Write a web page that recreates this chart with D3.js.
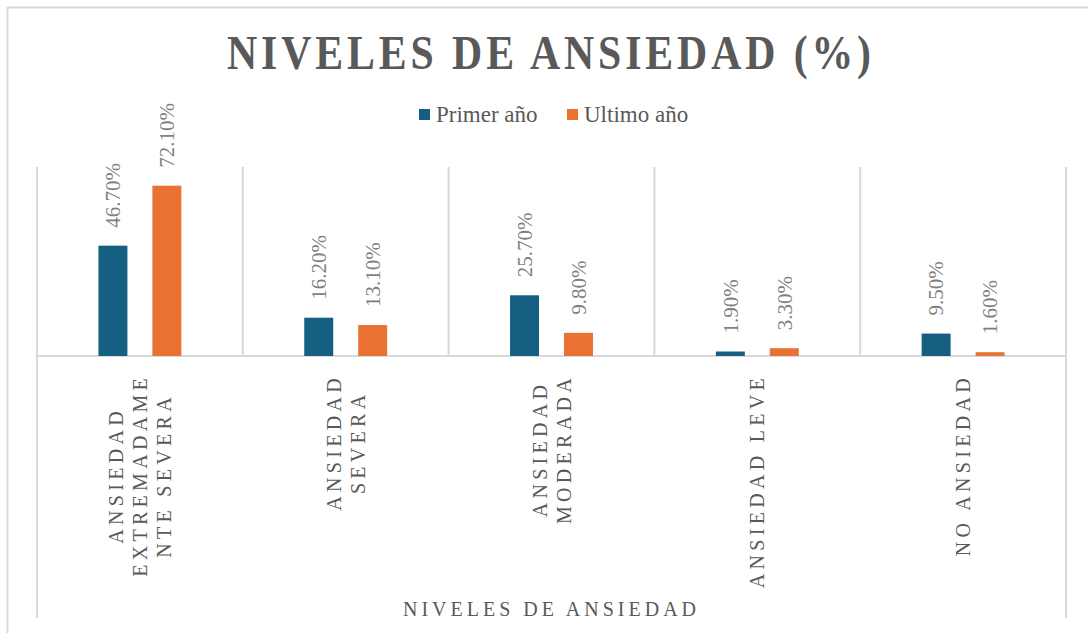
<!DOCTYPE html>
<meta charset="utf-8">
<script src="https://d3js.org/d3.v7.min.js"></script>
<style>
  body { margin: 0; background: #fff; }
</style>
<div id="chart"></div>
<script>

// data
var categories = ["Ansiedad extremadamente severa", "Ansiedad severa", "Ansiedad moderada", "Ansiedad leve", "No ansiedad"];
var categoryLines = [
  ["ANSIEDAD", "EXTREMADAME", "NTE SEVERA"],
  ["ANSIEDAD", "SEVERA"],
  ["ANSIEDAD", "MODERADA"],
  ["ANSIEDAD LEVE"],
  ["NO ANSIEDAD"]
];
var seriesNames = ["Primer año", "Ultimo año"];
var primerAno = [46.7, 16.2, 25.7, 1.9, 9.5];
var ultimoAno = [72.1, 13.1, 9.8, 3.3, 1.6];
var colors = ["#156082", "#E97132"];

var W = 1088, H = 633;
var plot = {left: 37, right: 1066, top: 167, bottom: 356};
var serif = "'Liberation Serif', 'Times New Roman', 'DejaVu Serif', serif";

var svg = d3.select("#chart").append("svg")
  .attr("width", W).attr("height", H)
  .attr("font-family", serif)
  .style("font-family", serif);

// chart frame (only top and left edges visible in the crop)
svg.append("path")
  .attr("d", "M7.5," + H + "V7.5H" + W)
  .attr("fill", "none").attr("stroke", "#d9d9d9").attr("stroke-width", 2);

var x0 = d3.scaleBand().domain(categories).range([plot.left, plot.right]);
var x1 = d3.scaleBand().domain(seriesNames)
  .range([0, x0.bandwidth()])
  .paddingInner(0.463).paddingOuter(1.139);
var y = d3.scaleLinear().domain([0, 80]).range([plot.bottom, plot.top]);

var rows = categories.map(function (c, i) {
  return {cat: c, lines: categoryLines[i], values: [primerAno[i], ultimoAno[i]]};
});

// vertical separators between categories
var bounds = categories.map(function (c) { return x0(c); }).concat([plot.right]);
svg.append("g").selectAll("line")
  .data(bounds)
  .enter().append("line")
    .attr("x1", function (d) { return d; })
    .attr("x2", function (d) { return d; })
    .attr("y1", plot.top)
    .attr("y2", function (d, i) { return (i == 0 || i == bounds.length - 1) ? 618 : plot.bottom; })
    .attr("stroke", "#d9d9d9").attr("stroke-width", 2);

// baseline
svg.append("line")
  .attr("x1", plot.left).attr("x2", plot.right)
  .attr("y1", y(0)).attr("y2", y(0))
  .attr("stroke", "#d9d9d9").attr("stroke-width", 2);

// bars
var groups = svg.append("g").selectAll("g")
  .data(rows)
  .enter().append("g")
    .attr("transform", function (d) { return "translate(" + x0(d.cat) + ",0)"; });

var cells = groups.selectAll("g")
  .data(function (d) {
    return d.values.map(function (v, j) { return {name: seriesNames[j], value: v, j: j}; });
  })
  .enter().append("g");

cells.append("rect")
  .attr("x", function (d) { return x1(d.name); })
  .attr("width", x1.bandwidth())
  .attr("y", function (d) { return y(d.value); })
  .attr("height", function (d) { return y(0) - y(d.value); })
  .style("fill", function (d) { return colors[d.j]; });

// value labels, rotated
cells.append("text")
  .attr("transform", function (d) {
    return "translate(" + (x1(d.name) + x1.bandwidth() / 2) + "," + (y(d.value) - 18) + ") rotate(-90)";
  })
  .attr("dy", "0.35em")
  .attr("font-family", serif)
  .attr("font-size", 21)
  .attr("fill", "#7f7f7f")
  .text(function (d) { return d.value.toFixed(2) + "%"; });

// category labels, rotated and stacked
var labelTop = 374, lineGap = 24;
var catLabels = svg.append("g").selectAll("g")
  .data(rows)
  .enter().append("g")
    .attr("transform", function (d) {
      return "translate(" + (x0(d.cat) + x0.bandwidth() / 2) + "," + labelTop + ") rotate(-90)";
    });

catLabels.each(function (d) {
  var g = d3.select(this);
  var n = d.lines.length;
  var texts = g.selectAll("text")
    .data(d.lines)
    .enter().append("text")
      .attr("font-family", serif)
      .attr("font-size", 20)
      .attr("letter-spacing", 4.3)
      .attr("fill", "#595959")
      .attr("text-anchor", "middle")
      .attr("dy", "0.35em")
      .attr("y", function (t, i) { return (i - (n - 1) / 2) * lineGap; })
      .text(function (t) { return t; });
  var maxLen = 0;
  texts.each(function () { maxLen = Math.max(maxLen, this.getComputedTextLength()); });
  texts.attr("x", -maxLen / 2);
});

// axis title
svg.append("text")
  .attr("x", (plot.left + plot.right) / 2)
  .attr("y", 616)
  .attr("text-anchor", "middle")
  .attr("font-family", serif)
  .attr("font-size", 20)
  .attr("letter-spacing", 4)
  .attr("fill", "#595959")
  .text("NIVELES DE ANSIEDAD");

// chart title
svg.append("text")
  .attr("transform", "translate(551,69) scale(0.87,1)")
  .attr("text-anchor", "middle")
  .attr("font-family", serif)
  .attr("font-size", 48)
  .attr("font-weight", "bold")
  .attr("letter-spacing", 4.5)
  .attr("fill", "#595959")
  .text("NIVELES DE ANSIEDAD (%)");

// legend
var legend = svg.append("g");
var legendItems = [{x: 419, name: seriesNames[0], c: colors[0]}, {x: 567, name: seriesNames[1], c: colors[1]}];
legendItems.forEach(function (it) {
  legend.append("rect")
    .attr("x", it.x).attr("y", 109)
    .attr("width", 11).attr("height", 11)
    .attr("fill", it.c);
  legend.append("text")
    .attr("x", it.x + 17).attr("y", 122)
    .attr("font-family", serif)
    .attr("font-size", 23)
    .attr("fill", "#595959")
    .text(it.name);
});

</script>
